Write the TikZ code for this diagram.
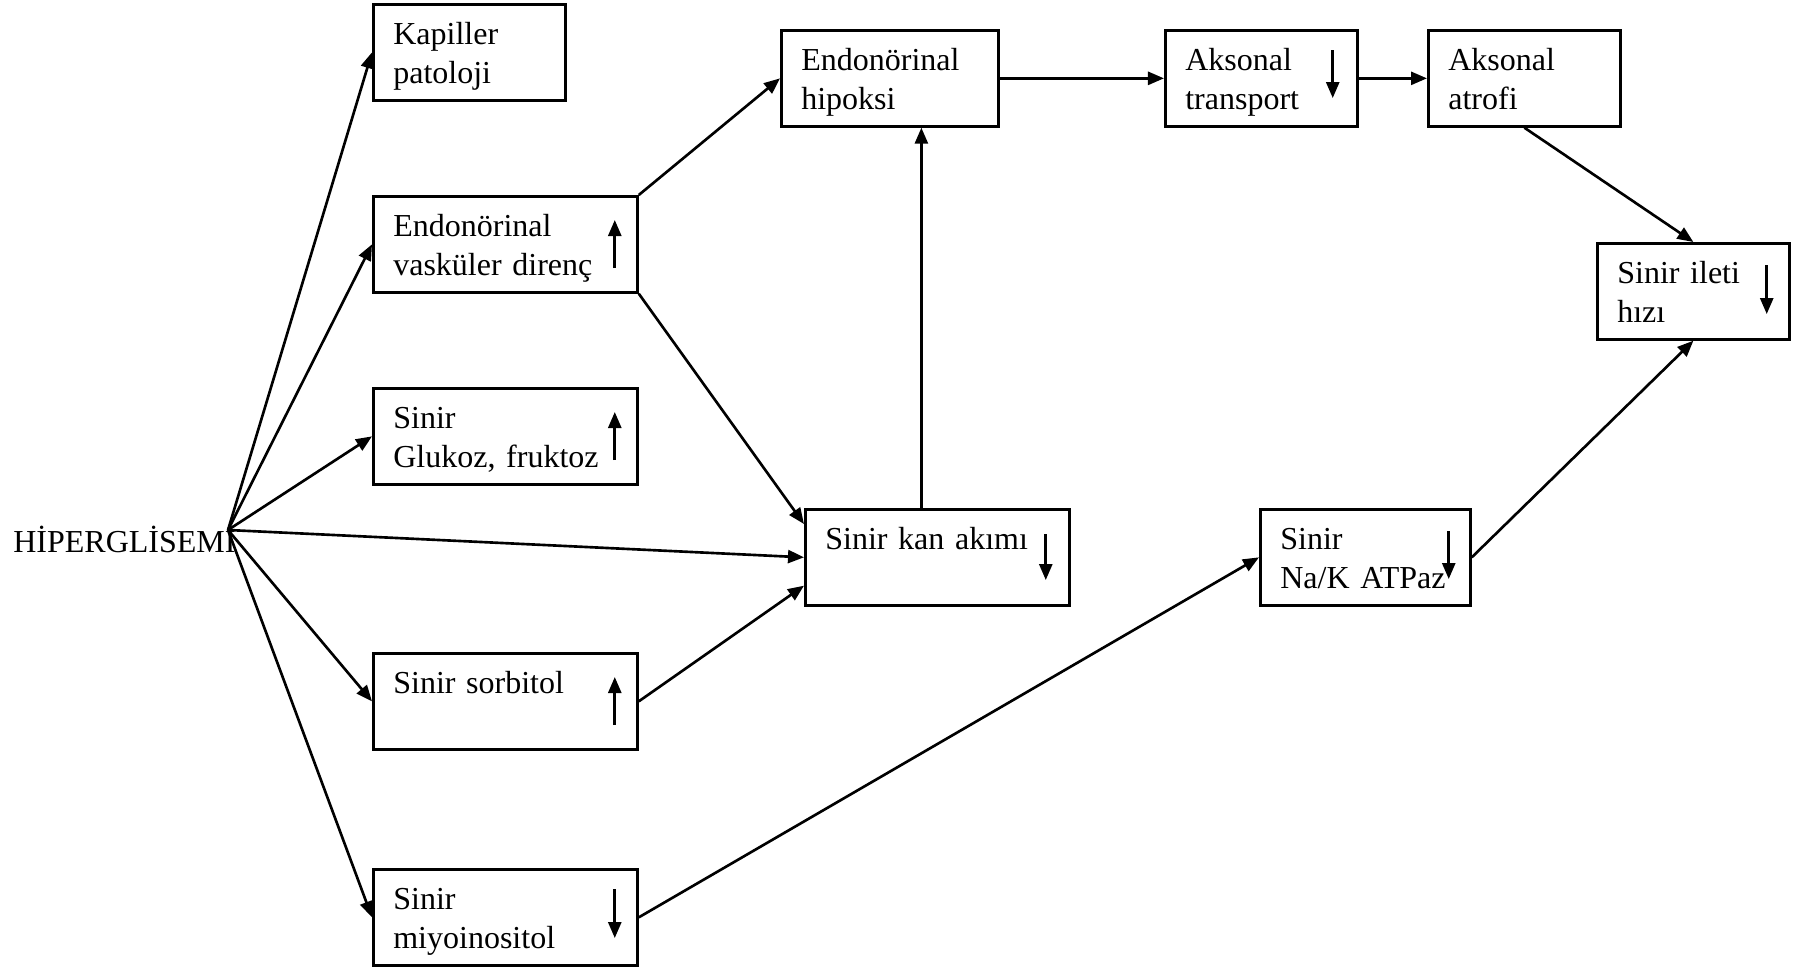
\documentclass[tikz,border=0pt]{standalone}
\usepackage{fontspec}
\setmainfont{Liberation Serif}
\usetikzlibrary{arrows.meta}

\begin{document}
\begin{tikzpicture}[x = 0.01cm, y = -0.01cm, line width = 0.75pt,
    >={Triangle[length=0.16cm, width=0.13cm]},
    main/.style = {draw, anchor = north west, align = left, text width = #1,
        inner xsep = 0.2cm, inner ysep = 0pt, text height = 0.4cm, text depth = 0.56cm,
        font = \fontsize{9.1}{11}\selectfont}]
    \useasboundingbox (0, 0) rectangle (1793, 967);

    \node[anchor = base west, inner sep = 0pt, font = \fontsize{9.1}{11}\selectfont](hyper) at (12, 553) {HİPERGLİSEMİ};
    \coordinate (hub) at (228, 530);

    \node[main = 1.52cm](kap) at (372, 3) {Kapiller\\patoloji};
    \node[main = 2.24cm](vas) at (372, 195) {Endonörinal\\vasküler direnç};
    \node[main = 2.24cm](glu) at (372, 387) {Sinir\\Glukoz, fruktoz};
    \node[main = 2.24cm](sor) at (372, 652) {Sinir sorbitol};
    \node[main = 2.24cm](miy) at (372, 868) {Sinir\\miyoinositol};

    \node[main = 1.77cm](hip) at (780, 29) {Endonörinal\\hipoksi};
    \node[main = 2.24cm](kan) at (804, 508) {Sinir kan akımı};

    \node[main = 1.52cm](tra) at (1164, 29) {Aksonal\\transport};
    \node[main = 1.52cm](atr) at (1427, 29) {Aksonal\\atrofi};
    \node[main = 1.52cm](ile) at (1596, 242) {Sinir ileti\\hızı};
    \node[main = 1.70cm](nak) at (1259, 508) {Sinir\\Na/K ATPaz};

    \draw[->](hub) -- (kap.west);
    \draw[->](hub) -- (vas.west);
    \draw[->](hub) -- (glu.west);
    \draw[->](hub) -- (kan.west);
    \draw[->](hub) -- (sor.west);
    \draw[->](hub) -- (miy.west);

    \draw[->](vas.north east) -- (hip.west);
    \draw[->](vas.south east) -- ([yshift = -0.16cm]kan.north west);
    \draw[->](sor.east) -- ([yshift = 0.21cm]kan.south west);
    \draw[->]([xshift = -0.16cm]kan.north) -- ([xshift = -0.16cm]kan.north |- hip.south);

    \draw[->](hip.east) -- (tra.west);
    \draw[->](tra.east) -- (atr.west);
    \draw[->](atr.south) -- (ile.north);
    \draw[->](nak.east) -- (ile.south);
    \draw[->](miy.east) -- (nak.west);

    % arrows inside the boxes
    \draw[->]([xshift = -0.24cm, yshift = -0.73cm]vas.north east) -- ++(0, 0.48cm);
    \draw[->]([xshift = -0.24cm, yshift = -0.73cm]glu.north east) -- ++(0, 0.48cm);
    \draw[->]([xshift = -0.24cm, yshift = -0.73cm]sor.north east) -- ++(0, 0.48cm);
    \draw[->]([xshift = -0.24cm, yshift = -0.21cm]miy.north east) -- ++(0, -0.49cm);
    \draw[->]([xshift = -0.25cm, yshift = -0.26cm]kan.north east) -- ++(0, -0.46cm);
    \draw[->]([xshift = -0.26cm, yshift = -0.21cm]tra.north east) -- ++(0, -0.48cm);
    \draw[->]([xshift = -0.24cm, yshift = -0.23cm]ile.north east) -- ++(0, -0.49cm);
    \draw[->]([xshift = -0.23cm, yshift = -0.23cm]nak.north east) -- ++(0, -0.48cm);
\end{tikzpicture}
\end{document}
